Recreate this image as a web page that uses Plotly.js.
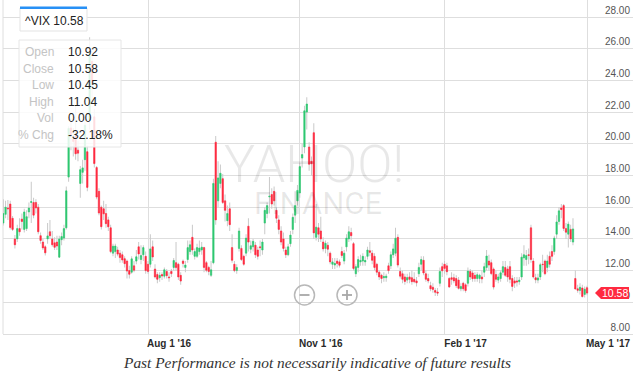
<!DOCTYPE html>
<html><head><meta charset="utf-8">
<script src="https://cdn.plot.ly/plotly-3.0.1.min.js"></script>
<style>html,body{margin:0;padding:0;background:#fff}#chart{width:633px;height:377px}</style>
</head><body><div id="chart"></div>
<script>
// ---- Data (VIX daily candles) ----
const dates = [
'2016-05-03','2016-05-04','2016-05-05','2016-05-06','2016-05-09','2016-05-10','2016-05-11','2016-05-12','2016-05-13','2016-05-16','2016-05-17','2016-05-18','2016-05-19','2016-05-20','2016-05-23','2016-05-24','2016-05-25','2016-05-26','2016-05-27','2016-05-31',
'2016-06-01','2016-06-02','2016-06-03','2016-06-06','2016-06-07','2016-06-08','2016-06-09','2016-06-10','2016-06-13','2016-06-14','2016-06-15','2016-06-16','2016-06-17','2016-06-20','2016-06-21','2016-06-22','2016-06-23','2016-06-24','2016-06-27','2016-06-28','2016-06-29','2016-06-30',
'2016-07-01','2016-07-05','2016-07-06','2016-07-07','2016-07-08','2016-07-11','2016-07-12','2016-07-13','2016-07-14','2016-07-15','2016-07-18','2016-07-19','2016-07-20','2016-07-21','2016-07-22','2016-07-25','2016-07-26','2016-07-27','2016-07-28','2016-07-29',
'2016-08-01','2016-08-02','2016-08-03','2016-08-04','2016-08-05','2016-08-08','2016-08-09','2016-08-10','2016-08-11','2016-08-12','2016-08-15','2016-08-16','2016-08-17','2016-08-18','2016-08-19','2016-08-22','2016-08-23','2016-08-24','2016-08-25','2016-08-26','2016-08-29','2016-08-30','2016-08-31',
'2016-09-01','2016-09-02','2016-09-06','2016-09-07','2016-09-08','2016-09-09','2016-09-12','2016-09-13','2016-09-14','2016-09-15','2016-09-16','2016-09-19','2016-09-20','2016-09-21','2016-09-22','2016-09-23','2016-09-26','2016-09-27','2016-09-28','2016-09-29','2016-09-30',
'2016-10-03','2016-10-04','2016-10-05','2016-10-06','2016-10-07','2016-10-10','2016-10-11','2016-10-12','2016-10-13','2016-10-14','2016-10-17','2016-10-18','2016-10-19','2016-10-20','2016-10-21','2016-10-24','2016-10-25','2016-10-26','2016-10-27','2016-10-28','2016-10-31',
'2016-11-01','2016-11-02','2016-11-03','2016-11-04','2016-11-07','2016-11-08','2016-11-09','2016-11-10','2016-11-11','2016-11-14','2016-11-15','2016-11-16','2016-11-17','2016-11-18','2016-11-21','2016-11-22','2016-11-23','2016-11-25','2016-11-28','2016-11-29','2016-11-30',
'2016-12-01','2016-12-02','2016-12-05','2016-12-06','2016-12-07','2016-12-08','2016-12-09','2016-12-12','2016-12-13','2016-12-14','2016-12-15','2016-12-16','2016-12-19','2016-12-20','2016-12-21','2016-12-22','2016-12-23','2016-12-27','2016-12-28','2016-12-29','2016-12-30',
'2017-01-03','2017-01-04','2017-01-05','2017-01-06','2017-01-09','2017-01-10','2017-01-11','2017-01-12','2017-01-13','2017-01-17','2017-01-18','2017-01-19','2017-01-20','2017-01-23','2017-01-24','2017-01-25','2017-01-26','2017-01-27','2017-01-30','2017-01-31',
'2017-02-01','2017-02-02','2017-02-03','2017-02-06','2017-02-07','2017-02-08','2017-02-09','2017-02-10','2017-02-13','2017-02-14','2017-02-15','2017-02-16','2017-02-17','2017-02-21','2017-02-22','2017-02-23','2017-02-24','2017-02-27','2017-02-28',
'2017-03-01','2017-03-02','2017-03-03','2017-03-06','2017-03-07','2017-03-08','2017-03-09','2017-03-10','2017-03-13','2017-03-14','2017-03-15','2017-03-16','2017-03-17','2017-03-20','2017-03-21','2017-03-22','2017-03-23','2017-03-24','2017-03-27','2017-03-28','2017-03-29','2017-03-30','2017-03-31',
'2017-04-03','2017-04-04','2017-04-05','2017-04-06','2017-04-07','2017-04-10','2017-04-11','2017-04-12','2017-04-13','2017-04-17','2017-04-18','2017-04-19','2017-04-20','2017-04-21','2017-04-24','2017-04-25','2017-04-26','2017-04-27','2017-04-28',
'2017-05-01'];

const openP = [
15.00,15.55,15.95,16.20,15.30,14.00,14.00,14.65,15.25,14.60,14.65,15.70,16.30,16.30,16.30,16.00,14.20,13.80,13.50,14.00,
14.45,14.00,13.75,13.80,12.85,13.95,14.05,14.70,17.90,21.00,20.30,20.50,19.60,17.50,18.20,19.00,19.50,21.50,25.20,21.70,18.50,17.00,
16.00,15.90,15.60,15.20,14.70,13.10,13.20,13.30,13.10,13.00,12.75,12.60,12.00,11.90,12.30,12.60,13.50,12.70,13.00,12.90,
12.40,12.40,13.50,12.10,11.75,11.55,11.75,11.65,11.95,11.60,11.95,12.20,12.50,12.40,11.70,12.60,12.20,12.70,13.20,14.10,12.90,12.90,13.20,
13.30,13.45,12.50,12.20,11.70,12.50,20.10,16.40,17.50,17.80,16.40,15.15,15.90,13.45,12.40,12.00,13.40,13.40,12.90,13.10,14.80,
13.35,13.50,13.60,13.30,13.50,13.30,15.00,15.60,16.65,16.80,17.00,15.80,15.20,14.50,14.00,13.30,13.00,13.70,14.60,15.50,16.40,
16.90,19.10,19.80,22.00,19.80,18.90,20.70,14.10,14.70,14.50,13.80,13.40,13.60,13.10,12.40,12.35,12.60,12.55,13.20,12.60,13.50,
14.00,14.40,13.70,11.80,12.20,12.55,12.60,12.55,12.90,13.25,13.10,12.90,12.40,11.90,11.70,11.55,11.55,12.30,12.30,13.00,13.10,
14.10,11.95,11.80,11.60,11.40,11.60,11.55,11.45,11.35,11.80,12.40,12.65,11.80,11.50,11.05,10.95,10.75,10.65,11.20,12.25,
12.40,12.30,11.50,11.55,11.55,11.50,11.40,10.85,11.20,11.10,11.20,11.95,11.85,11.70,11.50,11.50,11.60,11.90,12.20,
12.60,12.50,12.10,11.75,11.40,11.50,11.90,12.20,12.10,12.25,11.50,11.35,11.35,11.30,11.60,12.80,12.70,13.00,14.70,12.60,11.55,11.40,11.60,
12.40,12.60,12.20,12.90,13.20,13.20,14.30,15.10,15.95,16.10,14.65,14.30,14.60,13.80,11.50,10.85,10.75,10.90,10.50,
10.92];

const highP = [
16.50,16.40,16.45,16.40,15.45,14.25,14.90,15.30,15.60,15.90,15.80,16.30,17.60,16.60,16.50,16.20,14.40,14.00,13.60,15.00,
15.20,14.50,14.10,14.20,14.20,14.40,14.90,17.30,21.10,21.60,21.00,22.40,20.20,18.60,19.00,21.50,19.90,26.72,25.80,22.20,18.60,17.20,
16.10,16.40,16.20,15.40,14.90,13.70,13.70,13.50,13.30,13.20,12.90,12.70,12.30,12.90,12.60,13.30,13.80,13.60,13.60,13.20,
12.60,14.30,13.90,12.40,11.90,11.90,11.90,12.20,12.10,11.90,12.10,12.80,13.80,12.50,11.90,12.70,12.60,13.90,13.90,14.90,13.40,13.70,13.90,
13.80,13.50,12.60,12.30,12.60,17.80,20.50,18.90,18.70,18.10,16.80,16.10,16.30,14.30,12.60,12.40,14.70,13.60,13.00,14.30,15.30,
13.90,14.00,13.80,13.50,13.90,14.00,16.00,16.30,17.90,17.20,17.30,16.00,15.50,14.80,14.40,13.50,13.70,14.50,15.60,17.00,17.40,
18.80,20.00,22.40,22.94,20.10,19.20,21.30,16.20,15.00,15.40,14.10,13.90,13.80,13.20,12.80,12.80,12.80,12.70,13.50,13.30,14.30,
14.80,14.70,13.80,12.40,12.90,13.00,13.10,12.90,13.50,13.80,13.30,13.10,12.50,12.00,11.80,11.90,11.80,12.50,13.20,13.70,14.70,
14.30,12.20,12.00,11.80,11.80,11.90,12.00,11.90,11.60,12.50,12.90,12.90,12.00,11.80,11.30,11.20,10.90,10.90,12.20,12.50,
12.60,12.50,11.60,11.90,11.80,11.70,11.60,11.20,11.30,11.20,12.20,12.10,12.00,11.90,11.90,11.80,12.00,12.50,13.30,
13.00,12.70,12.20,12.00,11.80,12.00,12.60,12.60,12.30,12.60,11.70,11.60,11.60,11.60,13.10,13.60,13.30,13.40,14.90,12.80,11.80,11.80,12.50,
13.00,12.70,13.00,13.20,13.60,14.20,15.50,16.00,16.20,16.20,15.00,15.10,14.90,15.30,12.00,11.10,11.20,11.10,11.00,
11.04];

const lowP = [
14.85,15.30,15.20,14.60,14.50,13.40,13.80,14.20,14.60,14.40,14.50,15.30,15.00,15.30,15.60,14.30,13.70,13.30,12.95,13.70,
14.00,13.50,13.30,13.30,12.80,13.60,13.90,14.60,17.60,19.60,19.20,19.00,18.90,16.60,17.50,18.30,17.00,20.90,22.50,18.50,16.50,15.50,
14.60,15.20,14.70,14.50,13.10,12.90,12.80,12.90,12.50,12.50,12.20,11.50,11.50,11.80,11.90,12.40,12.70,12.40,12.60,11.80,
11.80,12.20,12.60,11.50,11.20,11.30,11.40,11.50,11.50,11.30,11.60,12.00,12.00,11.40,11.10,12.20,11.90,12.50,13.00,13.00,12.70,12.80,13.00,
13.00,11.90,11.90,11.70,11.60,12.40,14.90,16.00,17.20,16.20,15.10,14.80,14.50,12.50,11.90,11.80,13.20,12.60,12.30,12.90,13.20,
13.10,13.20,12.80,12.70,12.90,13.00,14.30,15.30,15.60,15.90,16.10,15.00,14.30,13.60,13.20,12.80,12.90,13.50,14.30,15.00,16.10,
16.60,18.50,19.40,20.90,18.30,18.00,14.00,13.90,13.80,13.80,13.20,13.10,12.90,12.40,12.10,12.10,12.20,12.20,12.80,12.40,13.20,
13.80,13.90,12.00,11.60,11.90,12.30,12.30,12.30,12.70,12.90,12.40,12.00,11.70,11.40,11.20,11.30,11.30,11.80,12.10,12.80,12.90,
12.20,11.50,11.20,11.10,11.20,11.20,11.10,11.20,11.00,11.60,12.00,11.70,11.30,11.20,10.70,10.60,10.40,10.40,11.00,11.60,
11.80,11.70,10.90,11.10,11.20,10.90,10.80,10.70,10.70,10.60,11.00,11.40,11.30,11.30,11.30,11.20,11.20,11.60,12.00,
12.00,11.70,10.80,11.30,11.20,11.30,11.70,11.60,11.30,11.20,10.70,10.90,11.00,11.10,11.40,12.30,12.30,12.40,12.50,11.50,11.20,11.20,11.40,
11.90,11.70,11.90,12.20,12.60,13.00,14.00,14.90,15.30,14.50,14.00,13.45,13.80,13.60,10.80,10.60,10.50,10.30,10.30,
10.45];

const closeP = [
15.60,16.00,15.90,14.72,14.60,13.63,14.65,14.45,15.10,15.70,15.40,15.95,16.35,15.50,15.95,14.45,13.90,13.43,13.12,14.19,
14.20,13.63,13.47,13.55,14.00,14.15,14.65,17.03,20.97,20.50,20.14,19.37,19.41,18.37,18.48,21.17,17.25,25.76,23.85,18.75,16.64,15.63,
14.77,15.58,14.96,14.76,13.20,13.54,13.55,13.04,12.82,12.67,12.44,11.97,11.77,12.74,12.02,12.87,13.05,12.95,13.45,12.00,
11.95,13.37,12.86,11.60,11.45,11.70,11.66,12.05,11.68,11.55,11.81,12.64,12.19,11.60,11.34,12.45,12.35,13.45,13.63,13.30,13.20,13.45,13.42,
13.48,12.20,12.02,11.94,12.05,17.50,15.20,17.85,18.14,16.30,15.80,15.60,14.90,12.65,12.00,12.20,14.50,12.70,12.40,14.05,13.80,
13.57,13.85,13.00,12.90,13.45,13.80,15.80,16.10,16.69,16.20,16.40,15.30,14.60,13.80,13.40,13.00,13.50,14.24,15.36,16.10,17.06,
18.56,19.32,22.08,22.51,18.71,18.74,14.38,14.74,14.30,14.00,13.37,13.72,13.35,12.55,12.55,12.45,12.45,12.34,12.95,13.10,14.05,
14.45,14.20,12.14,12.25,12.70,12.64,12.90,12.64,13.30,13.15,12.65,12.20,11.90,11.60,11.50,11.62,11.65,12.00,13.00,13.37,14.04,
12.35,11.65,11.45,11.32,11.56,11.45,11.30,11.30,11.23,12.20,12.70,11.85,11.45,11.35,10.85,10.81,10.63,10.58,11.95,11.99,
12.14,11.93,10.97,11.45,11.35,11.05,10.88,11.00,10.85,10.74,11.97,11.60,11.49,11.50,11.74,11.71,11.47,12.25,12.92,
12.35,11.81,10.96,11.45,11.60,11.86,12.25,11.70,11.60,11.45,11.00,11.21,11.28,11.40,12.85,13.00,12.95,12.96,12.70,11.60,11.42,11.54,12.37,
12.38,11.80,12.60,12.40,12.90,14.05,15.07,15.77,15.85,14.66,14.42,14.93,14.00,14.63,10.84,10.76,10.95,10.36,10.82,
10.58];

const tickDates = ['2016-08-01','2016-11-01','2017-02-01','2017-05-01'];
const tickLabels = ["Aug 1 '16","Nov 1 '16","Feb 1 '17","May 1 '17"];
const yTickVals = [8,10,12,14,16,18,20,22,24,26,28];
const symbol = '^VIX';
const tipLabels = ['Open','Close','Low','High','Vol','% Chg'];
const tipValues = ['10.92','10.58','10.45','11.04','0.00','-32.18%'];
const footerText = 'Past Performance is not necessarily indicative of future results';

// ---- Geometry helpers (pixel -> paper) ----
const L = 3, PW = 630, PH = 334;
const px = x => (x - L) / PW;
const py = y => (PH - y) / PH;

const UP = '#2ec870', DOWN = '#ff2a40', WICK = '#c8c8c8', GRID = '#dedede';

const bodyHigh = openP.map((o,i) => Math.max(o, closeP[i]));
const bodyLow  = openP.map((o,i) => Math.min(o, closeP[i]));
const wickLen  = highP.map((h,i) => h - lowP[i]);
const lastClose = closeP[closeP.length - 1];

const traces = [
  { type:'bar', x:dates, y:wickLen, base:lowP, width:0.42,
    marker:{color:WICK, line:{width:0}}, hoverinfo:'skip', showlegend:false },
  { type:'candlestick', x:dates, open:openP, high:bodyHigh, low:bodyLow, close:closeP,
    increasing:{line:{color:UP, width:0.6}, fillcolor:UP},
    decreasing:{line:{color:DOWN, width:0.6}, fillcolor:DOWN},
    whiskerwidth:0, hoverinfo:'skip', showlegend:false }
];

function ann(text, x, y, opts) {
  return Object.assign({text:text, x:x, y:y, xref:'paper', yref:'paper', showarrow:false,
    xanchor:'center', yanchor:'middle'}, opts || {});
}

const tipRows = [52, 68.5, 85, 101.5, 118, 134.5];
const annotations = [
  ann('YAHOO!', px(314), py(165), {font:{family:'Roboto', size:52, weight:300, color:'rgba(0,0,0,0.09)'}}),
  ann('FINANCE', px(318), py(203), {font:{family:'Roboto', size:31, weight:400, color:'rgba(0,0,0,0.09)'}}),
  ann(symbol + ' ' + lastClose.toFixed(2), px(54), py(21), {font:{family:'Liberation Sans', size:12, color:'#222'}}),
  ann(lastClose.toFixed(2), px(614.5), lastClose, {yref:'y', font:{family:'Liberation Sans', size:10.5, color:'#fff'}}),
  ann('<i>' + footerText + '</i>', px(317), py(362), {font:{family:'Liberation Serif', size:15.4, color:'#333'}})
];
tipLabels.forEach((t,i) => annotations.push(ann(t, px(56), py(tipRows[i]),
  {xanchor:'right', font:{family:'Liberation Sans', size:12, color:'#c4c4c4'}})));
tipValues.forEach((t,i) => annotations.push(ann(t, px(66), py(tipRows[i]),
  {xanchor:'left', font:{family:'Liberation Sans', size:12, color:'#222'}})));

const tagH = 6 / 15.85;
const shapes = [
  {type:'line', xref:'paper', yref:'paper', x0:0, x1:0, y0:0, y1:1, line:{color:GRID, width:1}, layer:'below'},
  {type:'rect', xref:'paper', yref:'paper', x0:px(20), x1:px(87), y0:py(8), y1:py(31), fillcolor:'#fff', line:{color:'#e3e3e3', width:1}},
  {type:'rect', xref:'paper', yref:'paper', x0:px(20), x1:px(87), y0:py(6.5), y1:py(9), fillcolor:'#2790f5', line:{width:0}},
  {type:'rect', xref:'paper', yref:'paper', x0:px(19), x1:px(121), y0:py(40), y1:py(147), fillcolor:'rgba(255,255,255,0.84)', line:{color:'#e6e6e6', width:1}},
  {type:'circle', xref:'paper', yref:'paper', x0:px(294.5), x1:px(314.5), y0:py(285), y1:py(305), line:{color:'#b8b8b8', width:1.5}},
  {type:'line', xref:'paper', yref:'paper', x0:px(299.5), x1:px(309.5), y0:py(295), y1:py(295), line:{color:'#a8a8a8', width:1.8}},
  {type:'circle', xref:'paper', yref:'paper', x0:px(337), x1:px(357), y0:py(285), y1:py(305), line:{color:'#b8b8b8', width:1.5}},
  {type:'line', xref:'paper', yref:'paper', x0:px(342), x1:px(352), y0:py(295), y1:py(295), line:{color:'#a8a8a8', width:1.8}},
  {type:'line', xref:'paper', yref:'paper', x0:px(347), x1:px(347), y0:py(290), y1:py(300), line:{color:'#a8a8a8', width:1.8}},
  {type:'path', xref:'paper', yref:'y', fillcolor:DOWN, line:{width:0},
   path:'M ' + px(595) + ' ' + lastClose + ' L ' + px(601) + ' ' + (lastClose + tagH) + ' L ' + px(629) + ' ' + (lastClose + tagH) +
        ' L ' + px(629) + ' ' + (lastClose - tagH) + ' L ' + px(601) + ' ' + (lastClose - tagH) + ' Z'}
];

const layout = {
  width:633, height:377, margin:{l:L, r:633 - L - PW, t:0, b:377 - PH},
  paper_bgcolor:'#fff', plot_bgcolor:'#fff', showlegend:false, hovermode:false,
  barmode:'overlay', boxgap:0.15,
  xaxis:{type:'category', range:[-0.1, 269.7], rangeslider:{visible:false},
    tickmode:'array', tickvals:tickDates, ticktext:tickLabels, showgrid:true, gridcolor:GRID, gridwidth:1,
    ticks:'', zeroline:false, showline:true, linecolor:GRID, linewidth:1, ticklabelshift:21, ticklabelstandoff:0,
    tickfont:{family:'Liberation Sans', size:10, weight:'bold', color:'#2a2a2a'}},
  yaxis:{side:'right', range:[8, 8 + PH/15.85], tickmode:'array', tickvals:yTickVals,
    ticktext:yTickVals.map(v => v.toFixed(2)), ticklabelposition:'inside', ticklabelshift:-7,
    showgrid:true, gridcolor:GRID, gridwidth:1, zeroline:false, showline:false, ticks:'',
    tickfont:{family:'Liberation Sans', size:10, color:'#555'}},
  shapes:shapes, annotations:annotations
};

Plotly.newPlot('chart', traces, layout, {displayModeBar:false, staticPlot:true});
</script></body></html>
